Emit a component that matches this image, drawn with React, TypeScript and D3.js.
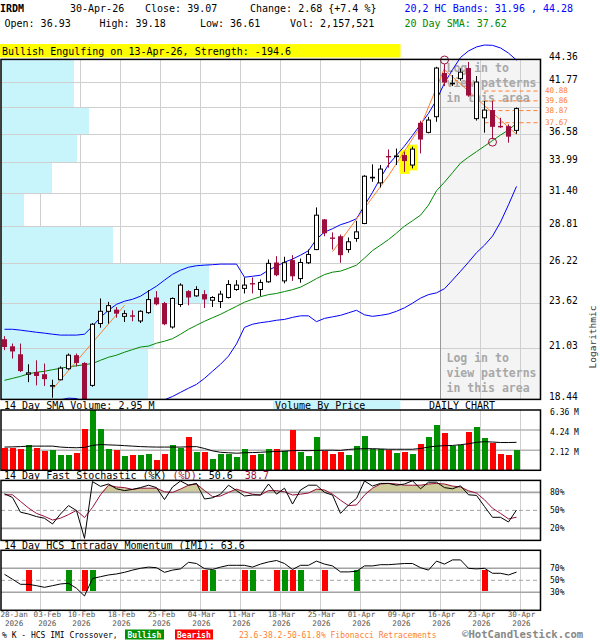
import React from 'react'
import * as d3 from 'd3'

// trading days shown on the chart
const DATES = [
  '28-Jan', '29-Jan', '30-Jan', '02-Feb', '03-Feb', '04-Feb', '05-Feb', '06-Feb', '09-Feb', '10-Feb',
  '11-Feb', '12-Feb', '13-Feb', '17-Feb', '18-Feb', '19-Feb', '20-Feb', '23-Feb', '24-Feb', '25-Feb',
  '26-Feb', '27-Feb', '02-Mar', '03-Mar', '04-Mar', '05-Mar', '06-Mar', '09-Mar', '10-Mar', '11-Mar',
  '12-Mar', '13-Mar', '16-Mar', '17-Mar', '18-Mar', '19-Mar', '20-Mar', '23-Mar', '24-Mar', '25-Mar',
  '26-Mar', '27-Mar', '30-Mar', '31-Mar', '01-Apr', '02-Apr', '06-Apr', '07-Apr', '08-Apr', '09-Apr',
  '10-Apr', '13-Apr', '14-Apr', '15-Apr', '16-Apr', '17-Apr', '20-Apr', '21-Apr', '22-Apr', '23-Apr',
  '24-Apr', '27-Apr', '28-Apr', '29-Apr', '30-Apr',
]

const OPEN = [
  21.54, 21.15, 20.72, 19.68, 19.79, 19.68, 19.09, 19.4, 19.96, 20.67,
  20.26, 19.12, 22.43, 23.15, 23.25, 22.85, 22.91, 22.58, 23.07, 23.99,
  23.65, 22.23, 23.56, 24.39, 24.09, 24.2, 23.82, 23.74, 23.99, 24.49,
  24.56, 24.9, 24.49, 24.98, 26.26, 25.04, 26.42, 25.19, 26.24, 27.15,
  29.35, 28.01, 28.1, 27.15, 27.94, 29.04, 32.68, 32.25, 34.57, 34.53,
  34.65, 33.77, 37.66, 36.74, 38.26, 42.83, 41.68, 42.21, 43.38, 38.07,
  38.15, 38.92, 37.36, 37.34, 36.93,
]
const HIGH = [
  21.71, 21.3, 21.3, 20.19, 20.4, 20.23, 19.4, 20.08, 20.76, 20.76,
  20.3, 22.46, 23.93, 23.72, 23.41, 23.21, 23.21, 23.21, 24.45, 24.39,
  23.72, 23.99, 24.88, 24.45, 24.7, 24.45, 24.07, 24.41, 25.09, 25.09,
  25.26, 25.26, 25.13, 26.46, 26.69, 26.65, 26.76, 26.53, 27.15, 30.27,
  29.38, 28.38, 28.22, 28.01, 29.24, 32.9, 33.83, 33.77, 35.16, 35.24,
  34.95, 35.41, 37.86, 38.25, 43.52, 43.83, 42.6, 43.35, 44.06, 42.49,
  39.84, 39.84, 38.15, 37.51, 39.18,
]
const LOW = [
  20.94, 20.49, 19.79, 19.28, 19.12, 19.09, 18.52, 19.37, 19.91, 20.08,
  17.4, 19.05, 22.19, 22.43, 22.77, 22.52, 22.56, 22.46, 23.0, 23.51,
  22.33, 22.14, 23.41, 23.51, 24.03, 23.35, 23.41, 23.35, 23.93, 24.41,
  24.24, 24.24, 24.07, 24.92, 25.34, 24.88, 25.04, 24.92, 26.15, 27.11,
  28.1, 27.15, 26.24, 26.93, 27.7, 28.99, 32.34, 31.87, 33.55, 33.77,
  33.18, 33.48, 34.8, 36.65, 37.76, 41.41, 41.41, 41.98, 40.29, 37.88,
  36.71, 36.09, 37.17, 35.78, 36.61,
]
const CLOSE = [
  21.11, 20.87, 19.84, 19.75, 19.59, 19.43, 19.11, 19.99, 20.67, 20.26,
  17.6, 22.39, 23.15, 23.49, 23.01, 23.01, 22.88, 23.15, 23.86, 23.57,
  22.39, 23.93, 24.77, 23.99, 24.49, 23.87, 23.99, 24.2, 24.81, 24.77,
  24.77, 24.86, 24.94, 26.2, 25.41, 26.24, 25.34, 26.26, 26.81, 29.67,
  28.31, 27.98, 26.76, 27.7, 28.42, 32.81, 32.72, 33.42, 34.53, 34.57,
  34.12, 35.19, 36.07, 37.93, 43.38, 41.79, 41.71, 42.92, 40.41, 41.84,
  38.92, 37.27, 37.31, 36.34, 39.07,
]

// volume, millions of shares
const VOLUME = [
  2.37, 2.37, 2.22, 2.65, 2.37, 2.05, 2.12, 1.66, 1.59, 1.84,
  4.34, 6.36, 4.34, 2.22, 2.12, 1.48, 1.59, 1.59, 1.69, 1.06,
  1.69, 2.65, 2.37, 3.49, 1.91, 1.91, 1.2, 1.69, 1.73, 1.41,
  2.22, 1.59, 1.69, 2.22, 2.22, 2.01, 4.24, 1.94, 1.48, 3.49,
  2.05, 1.69, 1.91, 1.59, 2.54, 3.6, 2.29, 2.29, 2.12, 1.84,
  1.91, 1.69, 2.75, 3.49, 4.77, 3.92, 2.61, 2.72, 4.02, 4.55,
  3.39, 2.89, 1.69, 1.59, 2.16,
]
const VOL_SMA = [
  2.45, 2.47, 2.5, 2.55, 2.55, 2.55, 2.55, 2.45, 2.4, 2.38,
  2.42, 2.62, 2.72, 2.68, 2.65, 2.6, 2.55, 2.5, 2.47, 2.45,
  2.45, 2.45, 2.45, 2.48, 2.5, 2.3, 2.05, 1.9, 1.85, 1.8,
  1.85, 1.87, 1.9, 1.95, 1.98, 2.02, 2.08, 2.08, 2.07, 2.1,
  2.12, 2.12, 2.1, 2.2, 2.25, 2.28, 2.28, 2.25, 2.22, 2.22,
  2.22, 2.22, 2.3, 2.45, 2.55, 2.6, 2.62, 2.7, 2.8, 2.95,
  3.02, 2.98, 2.93, 2.93, 2.95,
]

const SMA20 = [
  19.37, 19.47, 19.57, 19.7, 19.78, 19.83, 19.91, 19.98, 20.06, 20.11,
  20.17, 20.23, 20.4, 20.56, 20.67, 20.83, 20.97, 21.11, 21.16, 21.32,
  21.43, 21.57, 21.82, 22.1, 22.33, 22.56, 22.77, 22.97, 23.21, 23.45,
  23.7, 23.88, 24.04, 24.17, 24.24, 24.36, 24.48, 24.64, 24.9, 25.19,
  25.45, 25.61, 25.68, 25.87, 26.08, 26.56, 27.08, 27.46, 27.86, 28.33,
  28.84, 29.25, 29.67, 30.45, 31.6, 32.31, 33.11, 33.94, 34.47, 34.96,
  35.46, 35.97, 36.49, 36.96, 37.62,
]
const BAND_UP = [
  22.1, 22.1, 22.05, 21.99, 21.93, 21.88, 21.82, 21.77, 21.77, 21.77,
  21.82, 22.27, 22.8, 23.21, 23.57, 23.76, 23.88, 24.07, 24.39, 24.7,
  25.09, 25.47, 25.74, 25.94, 26.04, 26.08, 26.11, 26.15, 26.15, 26.15,
  25.28, 25.34, 25.41, 25.74, 26.01, 26.28, 26.49, 26.76, 27.07, 27.9,
  28.4, 28.65, 28.95, 29.14, 29.4, 30.42, 31.47, 32.67, 33.81, 34.63,
  35.47, 36.45, 37.51, 38.59, 39.95, 41.74, 43.2, 44.58, 45.34, 45.81,
  46.04, 46.0, 45.69, 45.09, 44.28,
]
const BAND_LO = [
  17.9, 17.9, 17.9, 17.9, 17.95, 18.0, 18.25, 18.42, 18.5, 18.48,
  18.3, 17.9, 17.8, 17.9, 18.1, 18.4, 18.42, 18.3, 18.2, 18.3,
  18.42, 18.58, 18.78, 18.98, 19.17, 19.47, 19.83, 20.19, 20.62, 21.28,
  22.21, 22.39, 22.48, 22.54, 22.62, 22.67, 22.79, 22.88, 22.88, 22.54,
  22.73, 22.82, 22.91, 23.06, 23.21, 22.94, 22.85, 22.91, 22.99, 23.15,
  23.36, 23.64, 23.95, 24.17, 24.28, 24.54, 25.09, 25.67, 26.28, 26.93,
  27.46, 28.11, 29.14, 30.48, 31.96,
]

const STOCH_K = [
  77.7, 71.5, 47, 44, 39.7, 36.9, 27.4, 44, 58, 49.7,
  3.4, 98, 90, 94, 86, 83, 85, 88, 92, 88,
  68, 89, 99, 92, 95, 69, 71, 77, 92, 83,
  74, 75.6, 75.6, 94, 77, 87, 60.6, 84, 92, 92,
  80, 75.6, 45, 59, 70, 99, 90.6, 95, 95, 92,
  94, 99.4, 86, 97, 97, 88, 86, 91, 76, 75,
  56.4, 38.5, 38.5, 30.7, 50.6,
]
const STOCH_D = [
  76, 76, 65, 54, 45, 40, 34, 37, 43, 50,
  38, 55, 76, 92, 89, 88, 85, 87, 87, 87,
  81, 80, 85.5, 92, 94, 83, 73, 74, 80, 85.5,
  81, 77, 75.6, 83, 83, 81, 75.6, 77, 79, 85.5,
  84, 77, 67, 58, 59, 75.6, 87, 94, 95, 94,
  92, 92, 92, 94, 95, 94, 90.6, 89, 82.7, 78.8,
  67.6, 53.6, 45, 35.8, 38.7,
]
const IMI = [
  60, 51.7, 43.3, 43.3, 41, 38.3, 41, 43.9, 45, 36.7,
  23.9, 53, 56, 58.9, 60.6, 63.3, 67, 70, 72, 71,
  63.3, 67, 69, 80, 78, 69.4, 68, 72, 75, 75,
  75, 72, 77, 80.6, 83, 78, 68, 75, 75, 82,
  77, 74, 64, 64, 65, 74, 74, 76, 76, 77,
  78, 78, 71, 67, 82, 77, 84, 84, 70, 69,
  70, 61.7, 61.7, 58.9, 63.6,
]
const IMI_CROSS = [
  { day: '02-Feb', kind: 'bear' }, { day: '09-Feb', kind: 'bull' },
  { day: '11-Feb', kind: 'bear' }, { day: '12-Feb', kind: 'bull' },
  { day: '05-Mar', kind: 'bear' }, { day: '06-Mar', kind: 'bull' },
  { day: '12-Mar', kind: 'bear' }, { day: '13-Mar', kind: 'bull' },
  { day: '18-Mar', kind: 'bear' }, { day: '19-Mar', kind: 'bull' },
  { day: '20-Mar', kind: 'bear' }, { day: '23-Mar', kind: 'bull' },
  { day: '26-Mar', kind: 'bear' }, { day: '01-Apr', kind: 'bull' },
  { day: '24-Apr', kind: 'bear' },
]

// price axis and volume-by-price bands (bottom band first), millions of shares
const PRICE_TICKS = [18.44, 21.03, 23.62, 26.22, 28.81, 31.4, 33.99, 36.58, 39.17, 41.77, 44.36]
const VBP = [29.4, 30.6, 41.6, 22.4, 4.6, 10.2, 15.2, 17.6, 14.6, 14.6]
const FIB_LEVELS = [40.88, 39.86, 38.87, 37.67]
const FIB_FROM = '24-Apr'
const TREND_LINES = [
  [['05-Feb', 18.93], ['19-Feb', 23.51]],
  [['27-Mar', 27.0], ['08-Apr', 32.86], ['14-Apr', 37.3], ['17-Apr', 43.37]],
  [['17-Apr', 43.2], ['30-Apr', 36.55]],
] as [string, number][][]
const MARKS = [['17-Apr', 44.29], ['27-Apr', 35.83]] as [string, number][]
const PATTERN_DAYS = ['10-Apr', '13-Apr']
const LOCKED_FROM = '16-Apr'
const LOCK_TEXT = ['Log in to', 'view patterns', 'in this area']

const DATE_LABELS = ['28-Jan', '03-Feb', '10-Feb', '18-Feb', '25-Feb', '04-Mar', '11-Mar', '18-Mar', '25-Mar', '01-Apr', '09-Apr', '16-Apr', '23-Apr', '30-Apr']
const VOL_TICKS = [2.12, 4.24, 6.36]
const PCT_STOCH = [20, 50, 80]
const PCT_IMI = [30, 50, 70]

const FONT = '"DejaVu Sans Mono", monospace'
const MAROON = '#9c0f3c'
const GREEN = '#009100'
const RED = '#ff0000'
const CYAN = '#c8f5fc'
const ORANGE = '#ff8030'

const LEFT = 1
const RIGHT = 540.5
const MAIN = [59.4, 399.4]
const VOLP = [410, 470.3]
const STOP = [480.4, 540.4]
const IMIP = [550.3, 610.3]

const x = d3.scaleBand<string>().domain(DATES).range([0.5, 520.5])
const cx = (d: string) => (x(d) as number) + x.bandwidth() / 2
const gridX = (d: string) => (x(d) as number) + x.bandwidth()
const idx = (d: string) => DATES.indexOf(d)

const y = d3.scaleLog().domain([18.44, 44.36]).range([MAIN[1], MAIN[0]])
const yVol = d3.scaleLinear().domain([0, 6.36]).range([VOLP[1], VOLP[0]])
const ySto = d3.scaleLinear().domain([0, 100]).range([STOP[1], STOP[0]])
const yImi = d3.scaleLinear().domain([0, 100]).range([IMIP[1], IMIP[0]])
const xVbp = d3.scaleLinear().domain([0, 108]).range([0, RIGHT - LEFT])

const seriesLine = (yy: (v: number) => number) =>
  d3.line<number>().x((_, i) => cx(DATES[i])).y((v) => yy(v))

const Panel = ({ top, bottom }: { top: number; bottom: number }) => (
  <rect x={LEFT} y={top} width={RIGHT - LEFT} height={bottom - top} fill="none" stroke="#000" strokeWidth={1.5} />
)

const VGrid = ({ top, bottom }: { top: number; bottom: number }) => (
  <g stroke="#cfcfcf" strokeWidth={1} shapeRendering="crispEdges">
    {DATE_LABELS.slice(1).map((d) => (
      <line key={d} x1={gridX(d)} x2={gridX(d)} y1={top} y2={bottom} />
    ))}
  </g>
)

const PctGrid = ({ ticks, yy }: { ticks: number[]; yy: (v: number) => number }) => (
  <g>
    {ticks.map((t) => (
      <g key={t}>
        <line x1={LEFT} x2={RIGHT} y1={yy(t)} y2={yy(t)} stroke="#a4a4a4"
          strokeWidth={t === 50 ? 1 : 1.6} strokeDasharray={t === 50 ? '4,3' : undefined} />
        <text x={550} y={yy(t) + 3} fontSize={8}>{t}%</text>
      </g>
    ))}
  </g>
)

export default function App() {
  const bandArea = d3.area<number>()
    .x((_, i) => cx(DATES[i]))
    .y0(ySto(80))
    .y1((v) => ySto(Math.max(v, 80)))

  // date labels: centred just right of the grid line, pushed right if they would collide
  const charW = 4.7
  let prevEnd = -Infinity
  const labelCenters = DATE_LABELS.map((d) => {
    const w = d.length * charW
    const start = Math.max(gridX(d) + 1 - w / 2, 0, prevEnd + 5)
    prevEnd = start + w
    return start + w / 2
  })

  const fibX0 = cx(FIB_FROM)
  const lockX = gridX(DATES[idx(LOCKED_FROM) - 1]) + 8
  const hiddenTick = (t: number) => FIB_LEVELS.some((f) => Math.abs(y(f) - y(t)) < 5)

  return (
    <svg width={600} height={640} style={{ position: 'absolute', left: 0, top: 0, background: '#fff' }}
      fontFamily={FONT}>
      {/* header */}
      <g fontSize={10} fill="#000">
        <text x={0} y={12} fontWeight="bold">IRDM</text>
        <text x={70} y={12}>30-Apr-26</text>
        <text x={145} y={12}>Close: 39.07</text>
        <text x={250} y={12}>Change: 2.68 {'{'}+7.4 %{'}'}</text>
        <text x={4.5} y={27}>Open: 36.93</text>
        <text x={99.5} y={27}>High: 39.18</text>
        <text x={200} y={27}>Low: 36.61</text>
        <text x={290} y={27}>Vol: 2,157,521</text>
        <text x={404.5} y={12} fill="#0000ff">20,2 HC Bands: 31.96 , 44.28</text>
        <text x={404.5} y={27} fill="#008800">20 Day SMA: 37.62</text>
      </g>
      <rect x={0} y={44} width={400.5} height={13.5} fill="#ffff00" />
      <text x={2} y={54.5} fontSize={10}>Bullish Engulfing on 13-Apr-26, Strength: -194.6</text>

      {/* main price chart */}
      <defs>
        <clipPath id="mainClip">
          <rect x={LEFT} y={0} width={RIGHT - LEFT} height={MAIN[1]} />
        </clipPath>
      </defs>
      <rect x={lockX} y={MAIN[0]} width={RIGHT - lockX} height={MAIN[1] - MAIN[0]} fill="#f4f4f4" />
      <VGrid top={MAIN[0]} bottom={MAIN[1]} />
      <g fill={CYAN} shapeRendering="crispEdges">
        {VBP.map((v, k) => (
          <rect key={k} x={LEFT} y={y(PRICE_TICKS[k + 1])} width={xVbp(v)}
            height={y(PRICE_TICKS[k]) - y(PRICE_TICKS[k + 1])} />
        ))}
      </g>
      <g stroke="#cfcfcf" strokeWidth={1} shapeRendering="crispEdges">
        {PRICE_TICKS.map((t) => (
          <line key={t} x1={LEFT} x2={RIGHT} y1={y(t)} y2={y(t)} />
        ))}
      </g>
      <line x1={lockX} x2={lockX} y1={MAIN[0]} y2={MAIN[1]} stroke="#999" strokeWidth={1} />
      <g fill="#a8a8a8" fontSize={11.5} fontWeight="bold">
        {LOCK_TEXT.map((s, k) => (
          <text key={'a' + k} x={446.5} y={71.5 + 15 * k}>{s}</text>
        ))}
        {LOCK_TEXT.map((s, k) => (
          <text key={'b' + k} x={446.5} y={362 + 15 * k}>{s}</text>
        ))}
      </g>
      <g stroke={ORANGE} strokeWidth={1} strokeDasharray="4,3">
        {FIB_LEVELS.map((f) => (
          <line key={f} x1={fibX0} x2={RIGHT} y1={y(f)} y2={y(f)} />
        ))}
      </g>
      <g clipPath="url(#mainClip)">
        {PATTERN_DAYS.map((d) => {
          const i = idx(d)
          return <rect key={d} x={cx(d) - 5} y={y(HIGH[i]) - 2} width={10}
            height={y(LOW[i]) - y(HIGH[i]) + 4} fill="#ffff00" />
        })}
        <path d={seriesLine(y)(BAND_UP) || ''} fill="none" stroke="#0000ff" strokeWidth={1} />
        <path d={seriesLine(y)(BAND_LO) || ''} fill="none" stroke="#0000ff" strokeWidth={1} />
        <path d={seriesLine(y)(SMA20) || ''} fill="none" stroke="#008800" strokeWidth={1} />
        {TREND_LINES.map((pts, k) => (
          <path key={k} fill="none" stroke={ORANGE} strokeWidth={1}
            d={d3.line<[string, number]>().x((p) => cx(p[0])).y((p) => y(p[1]))(pts) || ''} />
        ))}
        {DATES.map((d, i) => {
          const up = CLOSE[i] >= OPEN[i]
          const c = cx(d)
          const yT = y(Math.max(OPEN[i], CLOSE[i]))
          const yB = y(Math.min(OPEN[i], CLOSE[i]))
          return (
            <g key={d}>
              <line x1={c} x2={c} y1={y(HIGH[i])} y2={y(LOW[i])} stroke={up ? '#000' : MAROON} strokeWidth={1} />
              {up ? (
                <rect x={c - 2} y={yT} width={4} height={Math.max(yB - yT, 0.6)} fill="#fff" stroke="#000" strokeWidth={1} />
              ) : (
                <rect x={c - 2.5} y={yT} width={5} height={Math.max(yB - yT, 1.4)} fill={MAROON} />
              )}
            </g>
          )
        })}
        {MARKS.map(([d, p]) => (
          <circle key={d} cx={cx(d)} cy={y(p)} r={4} fill="none" stroke={MAROON} strokeWidth={1} />
        ))}
      </g>
      <rect x={LEFT} y={MAIN[0]} width={RIGHT - LEFT} height={MAIN[1] - MAIN[0]} fill="none" stroke="#000" strokeWidth={1.5} />
      <g fontSize={9.6}>
        {PRICE_TICKS.filter((t) => !hiddenTick(t)).map((t) => (
          <text key={t} x={549} y={y(t) + 0.7}>{t.toFixed(2)}</text>
        ))}
      </g>
      <g fontSize={7.6} fill={ORANGE}>
        {FIB_LEVELS.map((f) => (
          <text key={f} x={545} y={y(f) + 2.3}>{f.toFixed(2)}</text>
        ))}
      </g>
      <text transform="translate(596,337) rotate(-90)" textAnchor="middle" fontSize={9.5} fill="#333">Logarithmic</text>

      {/* volume */}
      <text x={4} y={409} fontSize={10}>14 Day SMA Volume: 2.95 M</text>
      <rect x={273} y={MAIN[1] + 0.8} width={127.5} height={VOLP[0] - MAIN[1] - 1.5} fill={CYAN} />
      <text x={275} y={409} fontSize={10}>Volume By Price</text>
      <text x={462} y={409} fontSize={10} textAnchor="middle">DAILY CHART</text>
      <VGrid top={VOLP[0]} bottom={VOLP[1]} />
      <g stroke="#b4b4b4" strokeWidth={1.5}>
        {VOL_TICKS.slice(0, 2).map((t) => (
          <line key={t} x1={LEFT} x2={RIGHT} y1={yVol(t)} y2={yVol(t)} />
        ))}
      </g>
      <g shapeRendering="crispEdges">
        {DATES.map((d, i) => (
          <rect key={d} x={cx(d) - 3} y={yVol(VOLUME[i])} width={6} height={yVol(0) - yVol(VOLUME[i])}
            fill={CLOSE[i] >= OPEN[i] ? GREEN : RED} />
        ))}
      </g>
      <path d={seriesLine(yVol)(VOL_SMA) || ''} fill="none" stroke="#000" strokeWidth={1} />
      <Panel top={VOLP[0]} bottom={VOLP[1]} />
      <g fontSize={8}>
        {VOL_TICKS.map((t) => (
          <text key={t} x={550} y={yVol(t) + 4.5}>{t.toFixed(2)} M</text>
        ))}
      </g>

      {/* stochastic */}
      <text x={4} y={479} fontSize={10} style={{ whiteSpace: 'pre' }}>
        <tspan>14 Day Fast Stochastic (%K) </tspan>
        <tspan fill={MAROON}>(%D)</tspan>
        <tspan>: 50.6  </tspan>
        <tspan fill={MAROON}>38.7</tspan>
      </text>
      <VGrid top={STOP[0]} bottom={STOP[1]} />
      <path d={bandArea(STOCH_D) || ''} fill="#cfcb9b" />
      <PctGrid ticks={PCT_STOCH} yy={ySto} />
      <path d={seriesLine(ySto)(STOCH_D) || ''} fill="none" stroke={MAROON} strokeWidth={1} />
      <path d={seriesLine(ySto)(STOCH_K) || ''} fill="none" stroke="#000" strokeWidth={1} />
      <Panel top={STOP[0]} bottom={STOP[1]} />

      {/* intraday momentum */}
      <text x={4} y={549} fontSize={10}>14 Day HCS Intraday Momentum (IMI): 63.6</text>
      <VGrid top={IMIP[0]} bottom={IMIP[1]} />
      <PctGrid ticks={PCT_IMI} yy={yImi} />
      <g shapeRendering="crispEdges">
        {IMI_CROSS.map((c) => (
          <rect key={c.day} x={cx(c.day) - 3} y={yImi(70) + 1.5} width={6} height={yImi(30) - yImi(70) - 3}
            fill={c.kind === 'bull' ? GREEN : RED} />
        ))}
      </g>
      <path d={seriesLine(yImi)(IMI) || ''} fill="none" stroke="#000" strokeWidth={1} />
      <Panel top={IMIP[0]} bottom={IMIP[1]} />

      {/* date axis */}
      <g fontSize={7.6} fill="#555" textAnchor="middle">
        {DATE_LABELS.map((d, k) => (
          <g key={d}>
            <text x={labelCenters[k]} y={617}>{d}</text>
            <text x={labelCenters[k]} y={625.8}>2026</text>
          </g>
        ))}
      </g>

      {/* legend */}
      <text x={2} y={637.5} fontSize={8}>% K - HCS IMI Crossover,</text>
      <rect x={125} y={629.5} width={39} height={10} fill={GREEN} />
      <text x={127.5} y={637.5} fontSize={8} fill="#fff" fontWeight="bold">Bullish</text>
      <rect x={175} y={629.5} width={38} height={10} fill={RED} />
      <text x={177} y={637.5} fontSize={8} fill="#fff" fontWeight="bold">Bearish</text>
      <text x={239} y={637.5} fontSize={8} fill={ORANGE}>23.6-38.2-50-61.8% Fibonacci Retracements</text>
      <text x={462} y={637.8} fontSize={10.6} fontWeight="bold" fill="#888">©HotCandlestick.com</text>
    </svg>
  )
}
